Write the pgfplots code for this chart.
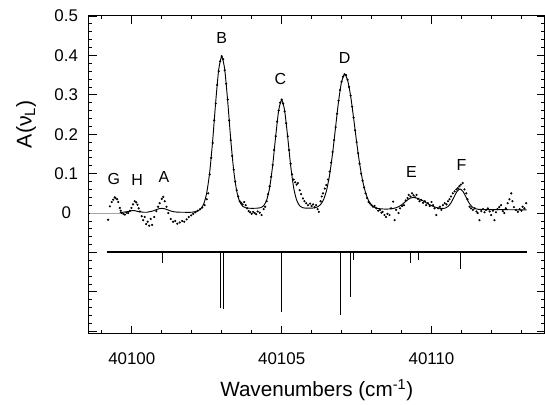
\documentclass[border=0pt]{standalone}
\usepackage{fontspec}
\setmainfont{Liberation Sans}
\usepackage{pgfplots}
\pgfplotsset{compat=1.18}
\begin{document}
\begin{tikzpicture}
\begin{axis}[
  scale only axis, width=342pt, height=238.5pt,
  xmin=40098.57, xmax=40113.77, ymin=-0.306, ymax=0.5,
  scaled x ticks=false, scaled y ticks=false,
  xtick={40100,40105,40110}, xticklabels={40100,40105,40110},
  minor xtick={40099,40101,40102,40103,40104,40106,40107,40108,40109,40111,40112,40113},
  ytick={-0.3,-0.2,-0.1,0,0.1,0.2,0.3,0.4,0.5},
  yticklabels={,,,0,0.1,0.2,0.3,0.4,0.5},
  minor y tick num=4,
  tick align=inside,
  major tick length=6pt, minor tick length=2.6pt,
  tick style={black, line width=0.6pt},
  axis line style={line width=0.75pt},
  ticklabel style={font=\fontsize{12.7}{15}\selectfont},
  xticklabel style={yshift=-11pt},
  yticklabel style={text width=27pt, align=center},
  xlabel={Wavenumbers (cm\textsuperscript{-1})},
  ylabel={A(ν\textsubscript{L})},
  every axis x label/.style={at={(axis description cs:0.5,-0.197)},anchor=base,font=\fontsize{15.5}{18}\selectfont},
  every axis y label/.style={at={(axis description cs:-0.1257,0.66)},anchor=base,rotate=90,font=\fontsize{16}{18}\selectfont},
  clip=false,
]
\path (axis description cs:-0.1952,-0.2138) rectangle (axis description cs:1.0,1.0503);
% short grey zero line at left
\addplot[gray!70, line width=0.75pt] coordinates {(40098.6,0.0) (40099.6,0.0)};
% stick spectrum
\addplot[black, line width=1.5pt] coordinates {(40099.17,-0.1) (40113.17,-0.1)};
\addplot[black, line width=0.75pt] coordinates {(40101.03,-0.1) (40101.03,-0.126)};
\addplot[black, line width=0.75pt] coordinates {(40102.97,-0.1) (40102.97,-0.240)};
\addplot[black, line width=0.75pt] coordinates {(40103.07,-0.1) (40103.07,-0.244)};
\addplot[black, line width=0.75pt] coordinates {(40105.00,-0.1) (40105.00,-0.250)};
\addplot[black, line width=0.75pt] coordinates {(40106.98,-0.1) (40106.98,-0.259)};
\addplot[black, line width=0.75pt] coordinates {(40107.31,-0.1) (40107.31,-0.214)};
\addplot[black, line width=0.75pt] coordinates {(40107.40,-0.1) (40107.40,-0.118)};
\addplot[black, line width=0.75pt] coordinates {(40109.29,-0.1) (40109.29,-0.126)};
\addplot[black, line width=0.75pt] coordinates {(40109.57,-0.1) (40109.57,-0.118)};
\addplot[black, line width=0.75pt] coordinates {(40110.96,-0.1) (40110.96,-0.141)};
% fitted curve
\addplot[black, line width=0.7pt, smooth, tension=0.4] coordinates {
(40099.6,0.001) (40099.7,0.002) (40099.8,0.003) (40099.9,0.004) (40100.0,0.006) (40100.1,0.006) (40100.2,0.004) (40100.3,0.003) (40100.4,0.002) (40100.5,0.002) (40100.6,0.0034) (40100.7,0.0052) (40100.8,0.0081) (40100.9,0.0108) (40101.0,0.012) (40101.1,0.0108) (40101.2,0.0081) (40101.3,0.0052) (40101.4,0.0034) (40101.5,0.0024) (40101.7,0.002) (40102.0,0.002) (40102.1,0.0033) (40102.2,0.0055) (40102.3,0.0105) (40102.4,0.0229) (40102.5,0.051) (40102.6,0.104) (40102.7,0.185) (40102.8,0.282) (40102.9,0.364) (40103.0,0.397) (40103.1,0.365) (40103.2,0.284) (40103.3,0.188) (40103.4,0.108) (40103.5,0.056) (40103.6,0.029) (40103.7,0.0175) (40103.8,0.0135) (40103.9,0.0123) (40104.0,0.012) (40104.2,0.0124) (40104.3,0.0137) (40104.4,0.0187) (40104.5,0.0328) (40104.6,0.0647) (40104.7,0.1205) (40104.8,0.194) (40104.9,0.260) (40105.0,0.287) (40105.1,0.260) (40105.2,0.194) (40105.3,0.1205) (40105.4,0.0647) (40105.5,0.0328) (40105.6,0.0187) (40105.7,0.0137) (40105.8,0.0124) (40106.0,0.0124) (40106.1,0.0133) (40106.2,0.0158) (40106.3,0.0217) (40106.4,0.0343) (40106.5,0.058) (40106.6,0.0968) (40106.7,0.1518) (40106.8,0.2182) (40106.9,0.2842) (40107.0,0.3336) (40107.1,0.352) (40107.2,0.3376) (40107.3,0.2979) (40107.4,0.2414) (40107.5,0.1812) (40107.6,0.1263) (40107.7,0.0827) (40107.8,0.0518) (40107.9,0.0314) (40108.0,0.0202) (40108.1,0.0145) (40108.2,0.0118) (40108.3,0.0107) (40108.5,0.0100) (40108.6,0.0105) (40108.7,0.0113) (40108.8,0.0130) (40108.9,0.0161) (40109.0,0.0208) (40109.1,0.0269) (40109.2,0.0333) (40109.3,0.0381) (40109.4,0.040) (40109.5,0.0381) (40109.6,0.0355) (40109.7,0.0317) (40109.8,0.0272) (40109.9,0.0227) (40110.0,0.0188) (40110.1,0.0155) (40110.2,0.0131) (40110.3,0.0117) (40110.45,0.0123) (40110.55,0.0165) (40110.65,0.0259) (40110.75,0.0405) (40110.85,0.0549) (40110.95,0.061) (40111.05,0.0549) (40111.15,0.0405) (40111.25,0.0259) (40111.35,0.016) (40111.45,0.0113) (40111.55,0.0096) (40111.7,0.009) (40112.0,0.0088) (40112.5,0.0085) (40113.17,0.008)
};
% measured data points
\addplot[only marks, mark=*, mark size=0.6pt, black] coordinates {
(40099.21,-0.017) (40099.27,0.017) (40099.33,0.028) (40099.38,0.034) (40099.43,0.040) (40099.46,0.038) (40099.51,0.035) (40099.55,0.028) (40099.6,0.013) (40099.63,0.006) (40099.66,0.0) (40099.72,-0.002) (40099.77,-0.004) (40099.82,0.001) (40099.88,0.0) (40099.94,0.006) (40099.99,0.013) (40100.04,0.022) (40100.1,0.030) (40100.15,0.027) (40100.19,0.021) (40100.23,0.012) (40100.27,0.004) (40100.33,-0.008) (40100.38,-0.018) (40100.43,-0.010) (40100.48,-0.028) (40100.53,-0.022) (40100.58,-0.032) (40100.63,-0.015) (40100.68,-0.030) (40100.75,-0.010) (40100.82,0.005) (40100.88,0.016) (40100.93,0.025) (40101.0,0.036) (40101.05,0.041) (40101.1,0.030) (40101.16,0.016) (40101.22,0.0) (40101.3,-0.015) (40101.38,-0.022) (40101.45,-0.020) (40101.52,-0.027) (40101.6,-0.024) (40101.68,-0.020) (40101.75,-0.022) (40101.83,-0.016) (40101.9,-0.010) (40101.98,-0.006) (40102.05,-0.002) (40102.12,0.002) (40102.2,0.006) (40102.28,0.010) (40102.35,0.014) (40102.43,0.020) (40102.5,0.035) (40102.55,0.05)
(40102.6,0.098) (40102.65,0.140) (40102.7,0.178) (40102.75,0.235) (40102.8,0.278) (40102.85,0.325) (40102.9,0.360) (40102.95,0.385) (40103.0,0.398) (40103.05,0.390) (40103.1,0.362) (40103.15,0.328) (40103.2,0.288) (40103.25,0.235) (40103.3,0.185) (40103.35,0.145) (40103.4,0.110) (40103.45,0.080) (40103.5,0.058) (40103.55,0.042) (40103.6,0.030) (40103.65,0.026) (40103.7,0.022) (40103.75,0.028) (40103.8,0.020) (40103.85,0.012) (40103.9,0.005) (40103.95,0.002) (40104.0,-0.002) (40104.05,0.003) (40104.1,0.0) (40104.15,-0.003) (40104.2,0.004) (40104.27,0.001) (40104.33,-0.005) (40104.4,0.010) (40104.45,0.016) (40104.5,0.030)
(40104.55,0.048) (40104.6,0.068) (40104.65,0.092) (40104.7,0.122) (40104.75,0.160) (40104.8,0.195) (40104.85,0.232) (40104.9,0.260) (40104.95,0.280) (40105.0,0.288) (40105.05,0.278) (40105.1,0.258) (40105.15,0.228) (40105.2,0.195) (40105.25,0.160) (40105.3,0.125) (40105.35,0.098) (40105.4,0.085) (40105.45,0.078) (40105.5,0.072) (40105.54,0.076) (40105.6,0.058) (40105.65,0.048) (40105.71,0.037) (40105.76,0.030) (40105.82,0.025) (40105.88,0.020) (40105.95,0.024) (40106.0,0.018) (40106.05,0.022) (40106.1,0.015) (40106.15,0.020) (40106.2,0.010) (40106.24,0.003) (40106.3,0.030) (40106.34,0.042) (40106.38,0.050) (40106.44,0.062) (40106.49,0.071)
(40106.55,0.085) (40106.6,0.105) (40106.65,0.128) (40106.7,0.155) (40106.75,0.185) (40106.8,0.218) (40106.85,0.252) (40106.9,0.285) (40106.95,0.312) (40107.0,0.333) (40107.05,0.346) (40107.1,0.352) (40107.15,0.350) (40107.2,0.338) (40107.25,0.320) (40107.3,0.298) (40107.35,0.270) (40107.4,0.242) (40107.45,0.210) (40107.5,0.180) (40107.55,0.152) (40107.6,0.125) (40107.65,0.100) (40107.7,0.082) (40107.75,0.065) (40107.8,0.050) (40107.85,0.038) (40107.9,0.028) (40107.95,0.024) (40108.0,0.020) (40108.05,0.016) (40108.1,0.018) (40108.16,0.012) (40108.22,0.006) (40108.28,0.008) (40108.33,0.001) (40108.37,0.003) (40108.43,-0.005) (40108.48,-0.010) (40108.53,-0.002) (40108.6,-0.005) (40108.65,0.012) (40108.72,0.029) (40108.77,-0.018) (40108.82,0.008) (40108.9,0.0) (40108.95,0.012)
(40109.02,0.018) (40109.08,0.020) (40109.14,0.032) (40109.2,0.038) (40109.24,0.046) (40109.3,0.042) (40109.35,0.050) (40109.4,0.045) (40109.45,0.040) (40109.5,0.046) (40109.55,0.036) (40109.6,0.030) (40109.66,0.033) (40109.72,0.026) (40109.78,0.030) (40109.82,0.020) (40109.88,0.025) (40109.94,0.018) (40110.0,0.028) (40110.05,0.020) (40110.1,0.012) (40110.16,-0.005) (40110.22,0.012) (40110.28,0.016) (40110.33,0.008) (40110.38,0.020) (40110.44,0.025) (40110.5,0.022) (40110.55,0.030) (40110.6,0.035) (40110.65,0.042) (40110.71,0.050) (40110.77,0.055) (40110.83,0.060) (40110.88,0.063) (40110.93,0.068) (40110.98,0.072) (40111.04,0.076) (40111.1,0.060) (40111.16,0.050) (40111.2,0.035) (40111.27,0.016) (40111.32,0.012) (40111.38,0.008) (40111.44,0.012) (40111.5,0.004) (40111.54,0.0) (40111.6,-0.018) (40111.66,0.005) (40111.72,0.010) (40111.77,0.002) (40111.82,0.008) (40111.88,0.012) (40111.94,0.004) (40111.99,-0.005) (40112.05,0.006) (40112.1,-0.018) (40112.15,0.002) (40112.2,0.010) (40112.26,0.015) (40112.32,0.020) (40112.38,0.005) (40112.43,0.0) (40112.48,0.012) (40112.54,0.025) (40112.6,0.035) (40112.66,0.050) (40112.7,0.030) (40112.75,0.015) (40112.82,0.008) (40112.88,0.003) (40112.94,0.010) (40113.0,0.006) (40113.04,0.016) (40113.1,0.012) (40113.16,0.025)
};
% peak labels
\begin{scope}[every node/.style={font=\fontsize{12}{14}\selectfont}]
\node at (axis cs:40099.40,0.086) {G};
\node at (axis cs:40100.18,0.083) {H};
\node at (axis cs:40101.07,0.091) {A};
\node at (axis cs:40103.0,0.443) {B};
\node at (axis cs:40104.96,0.339) {C};
\node at (axis cs:40107.1,0.393) {D};
\node at (axis cs:40109.33,0.105) {E};
\node at (axis cs:40111.0,0.121) {F};
\end{scope}
\end{axis}
\end{tikzpicture}
\end{document}
